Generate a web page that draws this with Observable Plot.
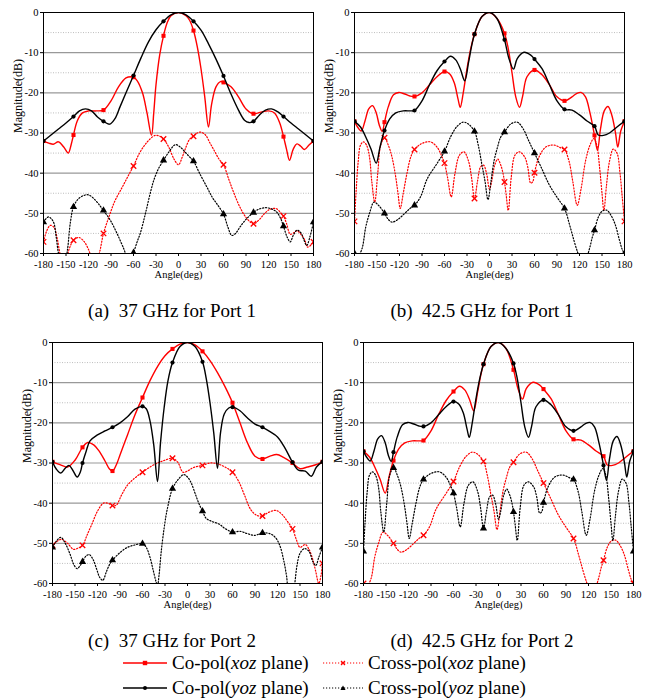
<!DOCTYPE html>
<html><head><meta charset="utf-8">
<script src="https://cdn.jsdelivr.net/npm/d3@7"></script>
<script src="https://cdn.jsdelivr.net/npm/@observablehq/plot@0.6"></script>
<style>
body{margin:0;background:#fff;font-family:"Liberation Serif","Times New Roman",serif;}
#root{position:relative;width:646px;height:700px;overflow:hidden;}
.panel{position:absolute;}
.cap{position:absolute;font-size:19px;line-height:20px;white-space:nowrap;transform:translate(-50%,-50%);}
.leg{position:absolute;font-size:19px;line-height:20px;height:20px;white-space:nowrap;transform:translateY(-50%);display:flex;align-items:center;}
.leg svg{margin-right:5px;}
</style></head><body><div id="root"></div><script>
// ---------- tick labels / axes ----------
const angleTicks = [-180,-150,-120,-90,-60,-30,0,30,60,90,120,150,180];
const dbMajor = [0,-10,-20,-30,-40,-50,-60];
const dbMinor = [-5,-15,-25,-35,-45,-55];
const markerAngles = [-180,-140,-100,-60,-20,20,60,100,140,180];
const captions = ["(a)\u00a0 37 GHz for Port 1","(b)\u00a0 42.5 GHz for Port 1","(c)\u00a0 37 GHz for Port 2","(d)\u00a0 42.5 GHz for Port 2"];
const seriesNames = ["Co-pol(<i>xoz</i> plane)","Cross-pol(<i>xoz</i> plane)","Co-pol(<i>yoz</i> plane)","Cross-pol(<i>yoz</i> plane)"];

// ---------- (a) 37 GHz, Port 1 ----------
const aCoXoz = [[-180,-32],[-173,-32.5],[-167,-32.8],[-160,-32.2],[-153,-33.5],[-147,-35],[-143,-32.8],[-140,-30.5],[-135,-27],[-128,-25],[-120,-24.5],[-110,-24.5],[-100,-24.3],[-90,-22],[-80,-18.5],[-70,-16.3],[-63,-16],[-60,-16.1],[-55,-17],[-48,-20],[-42,-25],[-36,-30.6],[-33,-25],[-30,-18],[-25,-10.5],[-20,-5.8],[-15,-2.5],[-10,-0.8],[0,0],[10,-0.8],[15,-2],[20,-4.5],[25,-8.5],[30,-14],[35,-21],[40,-28.5],[44,-23],[50,-18.5],[56,-17.2],[60,-17.4],[70,-18.5],[80,-21],[90,-24],[100,-25.2],[110,-24.8],[120,-24.5],[128,-25],[135,-27.5],[140,-30.9],[144,-34],[148,-36.8],[153,-34],[158,-32.7],[163,-33.3],[168,-34.1],[174,-33],[180,-32]];
const aCoYoz = [[-180,-32],[-170,-30.5],[-160,-29],[-150,-27.5],[-140,-25.9],[-132,-24.5],[-124,-24],[-116,-24.5],[-108,-26],[-100,-27.1],[-92,-27.8],[-85,-26.5],[-78,-23.5],[-70,-20],[-60,-15.7],[-50,-11.3],[-40,-7.3],[-30,-4.3],[-20,-2.2],[-10,-0.6],[0,0],[10,-0.6],[20,-2.2],[30,-4.4],[40,-7.8],[50,-11.6],[60,-15.8],[70,-20.3],[80,-24.3],[88,-26.8],[94,-27.4],[100,-27.1],[108,-25.5],[116,-24.3],[124,-24],[132,-24.7],[140,-25.9],[150,-27.5],[160,-29],[170,-30.5],[180,-32]];
const aXXoz = [[-180,-57.1],[-176,-54.5],[-171,-53],[-166,-53.5],[-162,-56],[-158,-60],[-154,-62.5],[-150,-62],[-146,-59],[-140,-56.7],[-133,-56],[-126,-57],[-120,-59],[-115,-61.5],[-110,-62.5],[-105,-59.5],[-100,-55],[-92,-50.5],[-85,-47],[-75,-43.5],[-68,-41],[-60,-38.2],[-52,-35],[-45,-33],[-38,-31.5],[-31,-30.6],[-25,-30.8],[-20,-31.5],[-13,-33.5],[-6,-36.5],[0,-37.9],[5,-36],[10,-33.5],[15,-31.5],[20,-30.8],[25,-30],[30,-29.8],[36,-30.5],[42,-32.5],[48,-34.5],[54,-36.5],[60,-37.9],[67,-41.5],[74,-45],[82,-48.5],[90,-51],[100,-52.6],[108,-51.5],[115,-50],[122,-49],[130,-48.8],[136,-49.8],[140,-50.7],[144,-52.5],[149,-55.2],[154,-54.8],[158,-54.3],[163,-55.2],[168,-56.5],[172,-58.4],[176,-58],[180,-57.1]];
const aXYoz = [[-180,-52.2],[-176,-51.2],[-173,-50.9],[-169,-51.5],[-166,-52.5],[-163,-56],[-160,-60],[-156,-63],[-152,-63],[-148,-59],[-144,-52],[-140,-48.4],[-134,-46.5],[-127,-45.6],[-120,-45.4],[-112,-46.5],[-106,-47.8],[-100,-49.3],[-91,-51.7],[-82,-55],[-73,-58.8],[-68,-61],[-63,-61],[-60,-59.8],[-55,-57],[-51,-55],[-46,-51.5],[-42,-48.4],[-37,-44.5],[-33,-41.8],[-27,-39],[-20,-36.8],[-12,-34.5],[-4,-32.9],[3,-33.6],[9,-34.8],[15,-36],[20,-37],[28,-40],[38,-43.5],[45,-46],[51,-47.6],[60,-50.2],[66,-53.5],[71,-55.5],[76,-55],[82,-53.4],[90,-51.5],[100,-49.8],[108,-48.9],[117,-48.6],[124,-48.9],[131,-49.7],[136,-51.2],[140,-53.2],[145,-56],[149,-57.1],[153,-55.5],[158,-54.2],[163,-54.8],[167,-56.5],[171,-58],[175,-56],[180,-52.2]];

// ---------- (b) 42.5 GHz, Port 1 ----------
const bCoXoz = [[-180,-27.1],[-176,-28.5],[-171,-29.5],[-166,-27],[-161,-24],[-156,-23.2],[-151,-25],[-147,-28],[-143,-29.6],[-140,-27.3],[-135,-23.5],[-128,-20.5],[-121,-19.9],[-113,-20.3],[-106,-20.8],[-100,-20.9],[-90,-20],[-80,-18],[-70,-16],[-60,-14.7],[-53,-15.3],[-47,-17.5],[-42,-21.5],[-39,-23.6],[-35,-20],[-30,-14],[-25,-9],[-20,-5.4],[-10,-1],[0,0],[10,-1.5],[20,-5.2],[25,-9],[30,-15],[35,-21],[40,-23.6],[44,-21],[50,-16],[60,-14.3],[70,-15.5],[80,-18],[90,-21],[100,-22],[110,-21],[116,-20.2],[122,-19.9],[128,-21],[134,-25],[140,-30.6],[144,-34.3],[148,-29],[153,-24.5],[158,-23.4],[163,-25.5],[168,-30],[171,-33.5],[175,-29.5],[180,-27.1]];
const bCoYoz = [[-180,-27.1],[-172,-28.5],[-165,-31],[-158,-34],[-151,-37.5],[-146,-33.5],[-140,-29.4],[-133,-26.5],[-125,-25],[-115,-24.5],[-105,-24.5],[-100,-24.4],[-90,-22],[-80,-18],[-70,-14.5],[-60,-12.2],[-52,-10.9],[-45,-11.8],[-39,-14],[-33,-17],[-28,-12.5],[-24,-8.5],[-20,-5.4],[-10,-1],[0,0],[10,-1.5],[20,-6.8],[26,-11.5],[32,-14.1],[37,-11.5],[46,-9.9],[55,-10.6],[60,-11.6],[70,-14],[80,-18],[90,-22],[100,-24.1],[110,-24.3],[120,-25.5],[130,-27],[140,-28.3],[145,-30.5],[152,-30.6],[160,-30],[170,-28.5],[180,-27.1]];
const bXXoz = [[-180,-52],[-178,-45],[-175,-37],[-172,-33],[-168,-32.2],[-164,-33],[-160,-36],[-157,-42],[-153,-47.2],[-149,-40],[-145,-33],[-140,-31.2],[-135,-33],[-130,-36],[-125,-41],[-122,-45],[-119,-48.8],[-115,-45],[-110,-40],[-105,-36],[-100,-34.1],[-90,-32.6],[-79,-32.2],[-70,-33.5],[-62,-36.5],[-60,-37.5],[-56,-41],[-51,-45.9],[-46,-40],[-40,-35.5],[-34,-34.7],[-28,-37],[-24,-41],[-20,-46.3],[-16,-42],[-12,-38.5],[-8,-38],[-4,-40],[0,-44],[3,-42],[7,-38],[11,-36.5],[15,-38],[18,-40],[20,-42.2],[22,-45],[25,-49.3],[29,-41],[34,-35.5],[40,-34.7],[47,-36],[51,-38.5],[55,-42.5],[58,-42],[60,-39.9],[66,-36],[75,-33.5],[86,-33],[95,-33.7],[100,-34.1],[106,-37],[111,-42],[117,-48],[122,-44],[128,-37],[134,-33],[139,-31.4],[143,-33],[147,-39],[150,-45],[152.5,-49.3],[156,-43],[160,-37],[165,-34],[170,-35],[174,-40],[177,-46],[180,-52]];
const bXYoz = [[-180,-60],[-175,-60.5],[-170,-58.8],[-165,-53.4],[-160,-50],[-154,-47.2],[-148,-48],[-140,-50],[-135,-51.5],[-130,-52.2],[-122,-51.5],[-113,-50],[-106,-48.8],[-100,-48],[-92,-45.9],[-83,-41.4],[-70,-37.6],[-60,-34.6],[-52,-31],[-43,-28.3],[-35,-27.3],[-28,-27.8],[-20,-29.6],[-15,-33],[-10,-38],[-6,-42],[-2,-46.6],[2,-42],[6,-37],[10,-34],[15,-31],[20,-29.8],[28,-27.8],[37,-27.3],[45,-29],[52,-31.8],[60,-35],[70,-39],[80,-43],[90,-46],[100,-48.8],[107,-53],[113,-57],[118,-60],[122,-62],[127,-62],[133,-59],[137,-56],[140,-54.2],[145,-51],[150,-49.5],[156,-49.2],[162,-50.5],[168,-53],[173,-56.5],[177,-59],[180,-60]];

// ---------- (c) 37 GHz, Port 2 ----------
const cCoXoz = [[-180,-29.7],[-170,-30.4],[-160,-31],[-150,-29.3],[-140,-26.1],[-133,-24.9],[-125,-25.5],[-118,-27],[-110,-29.5],[-104,-31.5],[-100,-32],[-95,-30.5],[-90,-28],[-80,-23],[-70,-18],[-60,-13.7],[-50,-9.5],[-40,-6],[-30,-3.3],[-20,-1.6],[-10,-0.4],[0,0],[10,-0.6],[20,-2.2],[30,-4.5],[40,-7.5],[50,-11],[60,-15],[70,-20],[80,-25],[90,-28.3],[100,-29],[110,-28.3],[119,-27.9],[128,-28.6],[140,-30],[150,-31.4],[160,-31],[170,-30.5],[180,-29.7]];
const cCoYoz = [[-180,-29.7],[-175,-31.5],[-169,-32.5],[-163,-31.3],[-158,-30.6],[-153,-31.8],[-147,-33.5],[-143,-32.3],[-140,-30],[-135,-27],[-130,-24.5],[-120,-23],[-110,-22],[-100,-21.1],[-90,-20],[-80,-18.5],[-70,-16.6],[-60,-15.9],[-55,-16.5],[-50,-19.5],[-45,-25.5],[-40,-34.6],[-36,-25],[-31,-16],[-26,-9.5],[-20,-5],[-10,-1],[0,0],[10,-1],[20,-4.8],[25,-9],[30,-15],[35,-22.5],[40,-31.3],[44,-22.5],[49,-17.8],[55,-16.3],[60,-16.1],[70,-17],[80,-18.8],[90,-20.3],[100,-21.1],[110,-22.2],[120,-23.5],[130,-26.3],[140,-29.8],[148,-31.8],[157,-32],[165,-33.3],[172,-31],[180,-29.7]];
const cXXoz = [[-180,-50.5],[-174,-49.5],[-168,-49],[-160,-50],[-152,-51.5],[-146,-51.2],[-140,-50.5],[-134,-48],[-127,-45],[-120,-42],[-112,-40],[-105,-40.1],[-100,-40.6],[-95,-40.5],[-88,-38],[-80,-35.5],[-70,-33.7],[-60,-32.3],[-50,-31],[-40,-30],[-30,-29.3],[-20,-28.8],[-13,-29.8],[-6,-32.3],[0,-32],[6,-31.3],[12,-30.9],[20,-30.6],[30,-30],[40,-30.2],[50,-31],[60,-32.3],[68,-34.5],[76,-38],[84,-41.5],[92,-43],[100,-43.2],[108,-42.3],[118,-41.8],[126,-42.8],[133,-44.5],[140,-46.4],[145,-49],[150,-51],[157,-50.3],[162,-51.5],[167,-54],[171,-57],[175,-60],[178,-58],[180,-55]];
const cXYoz = [[-180,-51],[-175,-49.5],[-169,-48.5],[-163,-50],[-157,-52.5],[-151,-55.5],[-147,-56.3],[-143,-55.5],[-140,-54.6],[-136,-53.3],[-131,-52.8],[-126,-54],[-121,-56.5],[-117,-58.5],[-113,-59.2],[-108,-57],[-104,-55.3],[-100,-54.2],[-90,-52.3],[-80,-51],[-70,-50.4],[-60,-50.1],[-55,-51],[-50,-53.5],[-46,-56.5],[-42,-59.5],[-40,-60.5],[-38,-58],[-35,-52],[-31,-46],[-27,-41.5],[-20,-36.4],[-12,-34],[-5,-32.9],[0,-33.5],[5,-35],[10,-37.5],[15,-40],[20,-42],[25,-43.8],[32,-44.5],[42,-45.2],[50,-46.3],[60,-47.2],[70,-47],[80,-47.6],[90,-48],[100,-47.4],[110,-47.6],[117,-48.5],[123,-50.5],[128,-54],[132,-58],[135,-62],[140,-63],[143,-60],[146,-55.5],[150,-52.5],[156,-51.3],[162,-52],[167,-54.5],[171,-55.5],[175,-53.5],[180,-51]];

// ---------- (d) 42.5 GHz, Port 2: the read-off curves coincide with (b), planes swapped ----------
const dCoXoz = bCoYoz;
const dCoYoz = bCoXoz;
const dXXoz = bXYoz;
const dXYoz = bXXoz;

// ---------- layout ----------
const layout = [
  {left:0,   top:0,   ml:43, mr:10},
  {left:323, top:0,   ml:31, mr:22},
  {left:0,   top:330, ml:52, mr:1},
  {left:323, top:330, ml:40, mr:13}
];
const panelData = [
  [aCoXoz,aXXoz,aCoYoz,aXYoz],
  [bCoXoz,bXXoz,bCoYoz,bXYoz],
  [cCoXoz,cXXoz,cCoYoz,cXYoz],
  [dCoXoz,dXXoz,dCoYoz,dXYoz]
];
const styles = [
  {stroke:"#ff0000", width:1.4, dash:null, symbol:"square", fill:"#ff0000", mstroke:"none", r:2.3},
  {stroke:"#ff0000", width:1.2, dash:"1.2,1.8", symbol:"times", fill:"none", mstroke:"#ff0000", r:2.6},
  {stroke:"#000000", width:1.4, dash:null, symbol:"circle", fill:"#000000", mstroke:"none", r:2.1},
  {stroke:"#000000", width:1.2, dash:"1.2,1.8", symbol:"triangle", fill:"#000000", mstroke:"none", r:2.7}
];

function makePanel(series, L) {
  const marks = [
    Plot.ruleY(dbMinor, {stroke:"#b5b5b5", strokeWidth:0.9, strokeDasharray:"1,1.5"}),
    Plot.ruleY([-10,-20,-30,-40,-50], {stroke:"#999", strokeWidth:1.1})
  ];
  series.forEach((s, i) => {
    const st = styles[i];
    const data = s.map(([a, v]) => ({a, v}));
    marks.push(Plot.line(data, {x:"a", y:"v", stroke:st.stroke, strokeWidth:st.width,
      strokeDasharray:st.dash, curve:"catmull-rom", clip:true}));
    const md = data.filter(d => markerAngles.includes(d.a));
    marks.push(Plot.dot(md, {x:"a", y:"v", symbol:st.symbol, fill:st.fill,
      stroke:st.mstroke, strokeWidth:1.3, r:st.r, clip:true}));
  });
  marks.push(Plot.frame({stroke:"#000", strokeWidth:1}));
  marks.push(Plot.axisX(angleTicks, {tickSize:3, tickPadding:4, label:null, tickFormat:d => `${d}`, fontSize:10.5}));
  marks.push(Plot.axisY(dbMajor, {tickSize:3, tickPadding:2, label:null, tickFormat:d => `${d}`, fontSize:10.5}));
  marks.push(Plot.text(["Angle(deg)"], {frameAnchor:"bottom", dy:24, fontSize:10.5, fill:"#000"}));
  marks.push(Plot.text(["Magnitude(dB)"], {frameAnchor:"left", dx:-25, rotate:-90, fontSize:12, fill:"#000"}));
  return Plot.plot({
    width:323, height:290,
    marginLeft:L.ml, marginRight:L.mr, marginTop:12, marginBottom:37,
    x:{domain:[-180,180]},
    y:{domain:[-60,0]},
    style:{fontFamily:"Liberation Serif, Times New Roman, serif", background:"transparent", color:"#000", overflow:"visible"},
    marks
  });
}

const root = document.getElementById("root");
layout.forEach((L, k) => {
  const div = document.createElement("div");
  div.className = "panel";
  div.style.left = L.left + "px";
  div.style.top = L.top + "px";
  div.appendChild(makePanel(panelData[k], L));
  root.appendChild(div);
});

// captions
const capPos = [[172,311],[482,311],[172,641],[482,641]];
captions.forEach((c, k) => {
  const d = document.createElement("div");
  d.className = "cap";
  d.style.left = capPos[k][0] + "px";
  d.style.top = capPos[k][1] + "px";
  d.textContent = c;
  root.appendChild(d);
});

// legend
const legPos = [[123,663],[323,663],[123,688],[323,688]];
const swW = [44,40,44,40];
seriesNames.forEach((name, i) => {
  const st = styles[i];
  const d = document.createElement("div");
  d.className = "leg";
  d.style.left = legPos[i][0] + "px";
  d.style.top = legPos[i][1] + "px";
  const w = swW[i], c = w / 2;
  let sym = "";
  if (st.symbol === "square") sym = `<rect x="${c-2.2}" y="3.8" width="4.4" height="4.4" fill="${st.fill}"/>`;
  if (st.symbol === "circle") sym = `<circle cx="${c}" cy="6" r="2" fill="${st.fill}"/>`;
  if (st.symbol === "times") sym = `<path d="M${c-2},4 L${c+2},8 M${c-2},8 L${c+2},4" stroke="${st.mstroke}" stroke-width="1.2"/>`;
  if (st.symbol === "triangle") sym = `<path d="M${c},3.5 L${c+2.6},8 L${c-2.6},8 Z" fill="${st.fill}"/>`;
  d.innerHTML = `<svg width="${w}" height="12"><line x1="0" x2="${w}" y1="6" y2="6" stroke="${st.stroke}" stroke-width="${st.width}" ${st.dash ? `stroke-dasharray="${st.dash}"` : ""}/>${sym}</svg><span>${name}</span>`;
  root.appendChild(d);
});
</script></body></html>
